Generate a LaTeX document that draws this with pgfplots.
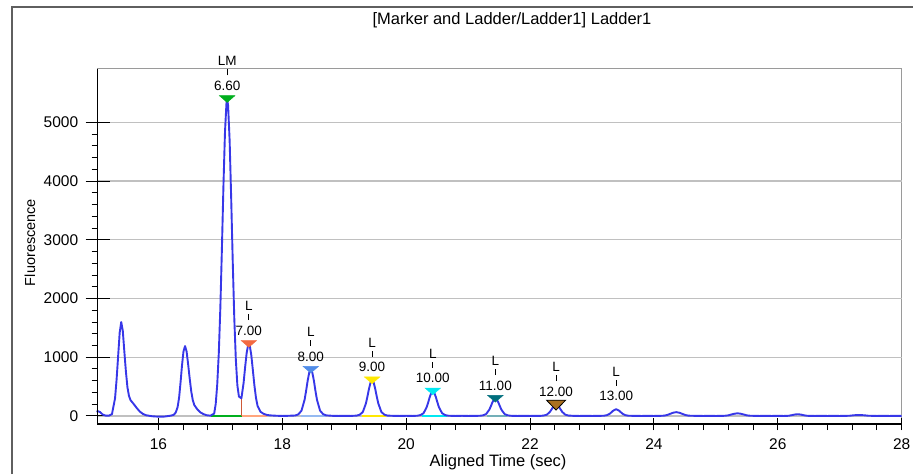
\documentclass[border=0pt]{standalone}
\usepackage{fontspec}
\setmainfont{Liberation Sans}
\usepackage{pgfplots}
\usepackage{pgfplotstable}
\pgfplotsset{compat=1.18}

\definecolor{trace}{RGB}{55,55,232}
\definecolor{gridgray}{RGB}{192,192,192}
\definecolor{frame}{RGB}{95,95,95}
\definecolor{cLM}{RGB}{0,175,30}
\definecolor{cseven}{RGB}{242,105,65}
\definecolor{ceight}{RGB}{80,140,232}
\definecolor{cnine}{RGB}{255,232,0}
\definecolor{cten}{RGB}{0,232,242}
\definecolor{celeven}{RGB}{0,110,125}
\definecolor{ctwelve}{RGB}{170,112,32}
\definecolor{salmon}{RGB}{255,165,125}

% trace
\pgfplotstableread{
t f
15.00 75
15.03 80
15.06 65
15.10 25
15.15 5
15.20 5
15.25 30
15.30 300
15.325 620
15.35 1020
15.375 1420
15.40 1600
15.425 1450
15.45 1100
15.475 760
15.50 490
15.525 340
15.55 270
15.60 205
15.65 135
15.70 75
15.75 35
15.80 12
15.90 -5
16.00 -12
16.10 -10
16.20 5
16.25 20
16.28 60
16.31 150
16.335 320
16.36 600
16.38 850
16.405 1100
16.43 1190
16.455 1100
16.48 880
16.505 640
16.53 420
16.555 270
16.58 185
16.63 110
16.68 60
16.73 30
16.78 12
16.84 5
16.90 40
16.925 200
16.95 540
16.975 1070
17.00 1840
17.025 2840
17.05 3920
17.075 4840
17.10 5350
17.11 5400
17.125 5290
17.15 4690
17.175 3710
17.20 2630
17.225 1670
17.25 960
17.275 520
17.30 330
17.34 300
17.375 560
17.40 830
17.425 1075
17.45 1215
17.46 1230
17.475 1200
17.50 1035
17.525 780
17.55 520
17.575 310
17.60 175
17.65 70
17.70 35
17.75 18
17.80 10
17.90 4
18.00 0
18.10 3
18.21 8
18.26 28
18.31 90
18.36 276
18.385 430
18.41 603
18.435 739
18.46 790
18.485 739
18.51 603
18.535 430
18.56 276
18.61 90
18.66 30
18.71 10
18.80 3
18.90 0
19.00 2
19.10 0
19.20 6
19.25 21
19.30 67
19.35 213
19.375 332
19.40 465
19.425 570
19.45 610
19.475 570
19.50 465
19.525 332
19.55 213
19.60 67
19.65 21
19.70 6
19.80 2
19.90 0
20.00 3
20.10 0
20.18 4
20.23 15
20.28 46
20.33 147
20.355 228
20.38 320
20.405 393
20.43 420
20.455 393
20.48 320
20.505 228
20.53 147
20.58 46
20.63 15
20.68 4
20.80 0
20.90 3
21.00 0
21.10 2
21.19 3
21.24 10
21.29 32
21.34 103
21.365 160
21.39 225
21.415 276
21.44 295
21.465 276
21.49 225
21.515 160
21.54 103
21.59 32
21.64 10
21.69 3
21.80 0
21.90 2
22.00 0
22.10 2
22.17 2
22.22 7
22.27 21
22.32 68
22.37 149
22.395 182
22.42 195
22.445 182
22.47 149
22.52 68
22.57 21
22.62 7
22.70 2
22.80 0
22.90 2
23.00 0
23.10 1
23.19 4
23.24 13
23.29 40
23.34 88
23.39 115
23.44 88
23.49 40
23.54 13
23.59 4
23.70 1
23.80 0
23.90 1
24.00 0
24.10 2
24.16 5
24.21 15
24.26 35
24.31 55
24.36 65
24.41 55
24.46 35
24.51 15
24.56 5
24.70 1
24.80 0
24.90 2
25.00 0
25.10 1
25.15 4
25.20 10
25.25 25
25.30 38
25.35 45
25.40 38
25.45 25
25.50 10
25.55 4
25.70 0
25.80 2
25.90 0
26.00 1
26.10 0
26.17 3
26.22 12
26.27 24
26.32 30
26.37 24
26.42 12
26.47 3
26.60 0
26.70 2
26.80 0
26.90 1
27.00 0
27.10 2
27.16 4
27.21 10
27.26 14
27.31 15
27.36 14
27.41 10
27.46 4
27.60 0
27.70 2
27.80 0
27.90 1
28.00 0
}\trace

\newcommand\lab{\fontsize{13.5}{15}\selectfont}
% #1 time, #2 height, #3 letter, #4 size
\newcommand\peaklabel[4]{%
  \node[font=\lab,anchor=base,inner sep=0pt] at ([yshift=8.5pt]axis cs:#1,#2) {#4};
  \draw[black,line width=0.9pt] ([yshift=23.5pt]axis cs:#1,#2) -- ([yshift=29.5pt]axis cs:#1,#2);
  \node[font=\lab,anchor=base,inner sep=0pt] at ([yshift=33pt]axis cs:#1,#2) {#3};
}

\begin{document}
\begin{tikzpicture}
\useasboundingbox (0,0) rectangle (913pt,474pt);
\draw[frame,line width=2pt] (12pt,0) -- (12pt,467pt) -- (913pt,467pt);
\node[font=\fontsize{16.5}{18}\selectfont] at (512pt,454pt) {[Marker and Ladder/Ladder1] Ladder1};
\node[font=\fontsize{16.5}{18}\selectfont] at (498pt,12pt) {Aligned Time (sec)};
\node[font=\fontsize{14.5}{16}\selectfont,rotate=90] at (30pt,231.5pt) {Fluorescence};

\begin{axis}[
  at={(97.7pt,50pt)},anchor=south west,scale only axis,
  width=804pt,height=355pt,
  xmin=15.02,xmax=28,ymin=-137,ymax=5910,
  xtick={16,18,...,28},ytick={0,1000,...,5000},
  minor x tick num=4,minor y tick num=4,
  xtick pos=bottom,ytick pos=left,
  tick align=outside,major tick length=6pt,minor tick length=6pt,
  tick style={black,line width=1pt},
  extra x ticks={16,18,...,28},extra x tick labels={},
  extra x tick style={tick align=center,major tick length=12pt},
  extra y ticks={0,1000,...,5000},extra y tick labels={},
  extra y tick style={tick align=center,major tick length=24pt},
  ymajorgrids,major grid style={gridgray,line width=1.3pt},
  axis line style={gridgray!80!black,line width=1pt},
  scaled y ticks=false,
  /pgf/number format/assume math mode=true,
  /pgf/number format/1000 sep={},
  tick label style={font=\fontsize{15.5}{17}\selectfont},
  yticklabel style={xshift=-10pt},
  xticklabel style={yshift=-5pt},
  clip=false]
% integration baselines
\addplot[cLM,line width=2pt] coordinates {(16.85,0)(17.345,0)};
\addplot[salmon,line width=2pt] coordinates {(17.345,0)(17.76,0)};
\addplot[cseven!85!black,line width=1.2pt] coordinates {(17.345,0)(17.345,300)};
\addplot[ceight!60,line width=2pt] coordinates {(18.3,0)(18.7,0)};
\addplot[cnine,line width=2pt] coordinates {(19.29,0)(19.67,0)};
\addplot[cten,line width=2pt] coordinates {(20.26,0)(20.66,0)};
\addplot[celeven!55,line width=2pt] coordinates {(21.31,0)(21.63,0)};
\addplot[ctwelve!60!white,draw=none] table[x=t,y=f,restrict x to domain=22.27:22.59] {\trace} \closedcycle;
\addplot[teal!55,draw=none] table[x=t,y=f,restrict x to domain=23.23:23.58] {\trace} \closedcycle;
\addplot[black!22,draw=none] table[x=t,y=f,restrict x to domain=24.22:24.5] {\trace} \closedcycle;
\addplot[black!15,draw=none] table[x=t,y=f,restrict x to domain=25.2:25.5] {\trace} \closedcycle;
% signal
\addplot[trace,line width=1.9pt,line join=round] table[x=t,y=f] {\trace};
% peak markers
\pgfplotsset{every tri/.style={only marks,mark=triangle*,mark size=9pt,
  mark options={yshift=1pt,rotate=180,yscale=0.5}}}
\addplot[every tri,cLM] coordinates {(17.11,5400)};
\addplot[every tri,cseven] coordinates {(17.46,1230)};
\addplot[every tri,ceight] coordinates {(18.46,790)};
\addplot[every tri,cnine] coordinates {(19.45,610)};
\addplot[every tri,cten] coordinates {(20.43,420)};
\addplot[every tri,celeven] coordinates {(21.44,295)};
\addplot[only marks,mark=triangle*,mark size=11pt,
  mark options={yshift=1pt,rotate=180,yscale=0.6,fill=ctwelve,draw=black,line width=0.8pt}]
  coordinates {(22.42,195)};
% left and bottom axis lines
\draw[black,line width=1.2pt] (rel axis cs:0,1) -- (rel axis cs:0,0) -- (rel axis cs:1,0);
\peaklabel{17.11}{5400}{LM}{6.60}
\peaklabel{17.46}{1230}{L}{7.00}
\peaklabel{18.46}{790}{L}{8.00}
\peaklabel{19.45}{610}{L}{9.00}
\peaklabel{20.43}{420}{L}{10.00}
\peaklabel{21.44}{295}{L}{11.00}
\peaklabel{22.42}{195}{L}{12.00}
\peaklabel{23.39}{115}{L}{13.00}
\end{axis}
\end{tikzpicture}
\end{document}
